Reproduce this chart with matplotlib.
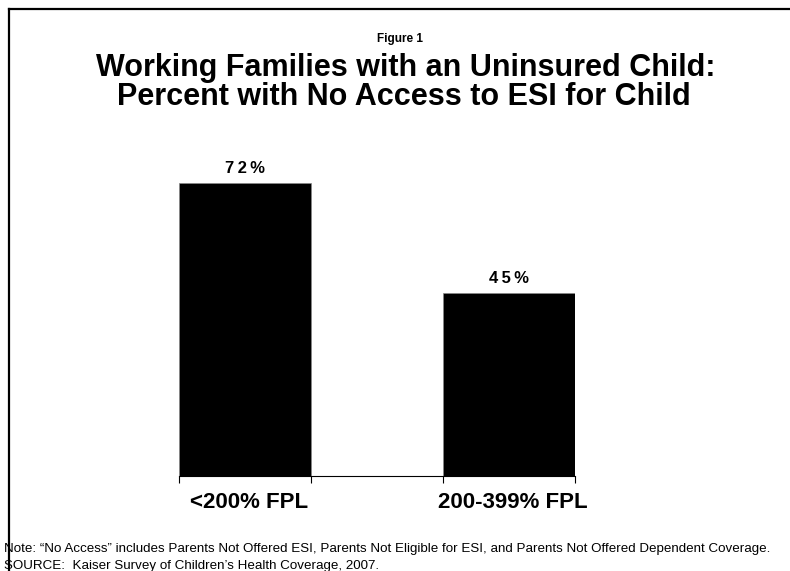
import matplotlib
matplotlib.use('Agg')
import matplotlib.pyplot as plt
from matplotlib.lines import Line2D

categories = ['<200% FPL', '200-399% FPL']
values = [72, 45]
labels = ['7\u20092\u2009%', '4\u20095\u2009%']

plt.rcParams['font.family'] = ['Liberation Sans', 'DejaVu Sans']

fig = plt.figure(figsize=(7.9, 5.71), dpi=100)
W, H = 790, 571

# slide frame (only top and left edges show)
fig.add_artist(Line2D([9/W, 9/W], [0, 1 - 9/H], color='black', lw=1.6))
fig.add_artist(Line2D([9/W, 1], [1 - 9/H, 1 - 9/H], color='black', lw=1.6))

ax = fig.add_axes([179/W, 1 - 476/H, (575 - 179)/W, (476 - 150.5)/H])
x = [0, 1]
ax.bar(x, values, width=0.5, color='black', edgecolor='#888888', linewidth=0.5)
for xi, v, lab in zip(x, values, labels):
    ax.text(xi, v + 1.8, lab, ha='center', va='bottom', fontsize=12, fontweight='bold')
ax.set_xlim(-0.25, 1.25)
ax.set_ylim(0, 80)
for s in ['top', 'right', 'left']:
    ax.spines[s].set_visible(False)
ax.spines['bottom'].set_linewidth(0.8)
ax.set_yticks([])
ax.set_xticks([-0.25, 0.25, 0.75, 1.25])
ax.set_xticklabels([])
ax.tick_params(axis='x', length=5, width=0.8, direction='out')
for xi, c in zip(x, categories):
    ax.text(xi + 0.015, -4, c, ha='center', va='top', fontsize=16, fontweight='bold')

fig.text(400/W, 1 - 39/H, 'Figure 1', ha='center', va='center', fontsize=8.5, fontweight='bold')
fig.text(406/W, 1 - 68/H, 'Working Families with an Uninsured Child:',
         ha='center', va='center', fontsize=22, fontweight='bold')
fig.text(404/W, 1 - 97/H, 'Percent with No Access to ESI for Child',
         ha='center', va='center', fontsize=22, fontweight='bold')

fig.text(4/W, 1 - 549/H, 'Note: \u201cNo Access\u201d includes Parents Not Offered ESI, Parents Not Eligible for ESI, and Parents Not Offered Dependent Coverage.',
         ha='left', va='center', fontsize=9.65)
fig.text(4/W, 1 - 566/H, 'SOURCE:  Kaiser Survey of Children\u2019s Health Coverage, 2007.',
         ha='left', va='center', fontsize=9.65)

fig.savefig('out.png', dpi=100)
